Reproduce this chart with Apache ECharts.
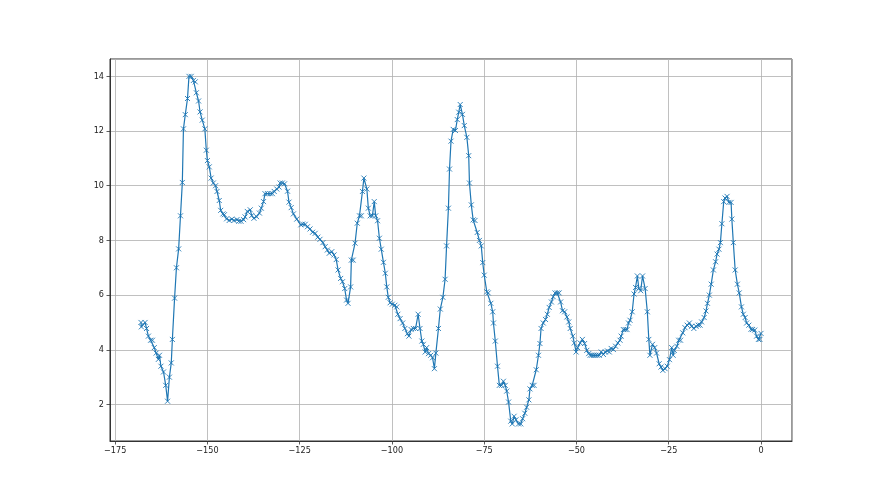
<!DOCTYPE html>
<html>
<head>
<meta charset="utf-8">
<script src="https://cdn.jsdelivr.net/npm/echarts@6/dist/echarts.min.js"></script>
<style>html,body{margin:0;padding:0;background:#fff}#c{width:880px;height:495px}</style>
</head>
<body>
<div id="c"></div>
<script>
const xs = [-168.0,-167.9,-166.9,-166.5,-166.0,-165.4,-164.9,-164.4,-163.9,-163.3,-163.0,-162.6,-161.9,-161.3,-160.8,-160.3,-159.8,-159.5,-158.9,-158.4,-157.8,-157.3,-156.8,-156.5,-156.0,-155.4,-155.0,-154.4,-153.8,-153.3,-153.0,-152.4,-152.0,-151.4,-150.7,-150.3,-150.0,-149.5,-149.0,-148.4,-147.8,-147.4,-146.8,-146.4,-145.8,-145.4,-144.8,-144.1,-143.4,-142.8,-142.0,-141.5,-140.9,-140.2,-139.8,-139.2,-138.4,-138.0,-137.4,-136.7,-135.9,-135.4,-134.8,-134.4,-133.7,-133.0,-132.4,-131.9,-131.2,-130.6,-130.3,-129.7,-129.1,-128.3,-127.9,-127.3,-126.7,-125.8,-124.7,-124.2,-123.5,-122.9,-122.2,-121.5,-120.8,-120.1,-119.5,-118.7,-118.1,-117.5,-117.0,-116.3,-115.7,-115.1,-114.6,-113.9,-113.4,-112.8,-112.3,-111.9,-111.2,-111.0,-110.5,-110.0,-109.4,-108.8,-108.3,-108.0,-107.6,-106.8,-106.4,-105.9,-105.3,-104.8,-104.4,-103.9,-103.4,-102.9,-102.3,-101.8,-101.4,-101.0,-100.5,-99.9,-99.2,-98.7,-98.4,-97.8,-97.1,-96.5,-95.8,-95.4,-94.8,-94.2,-93.6,-92.9,-92.4,-91.9,-91.5,-91.0,-90.6,-90.1,-89.5,-89.0,-88.5,-88.1,-87.4,-86.9,-86.2,-85.6,-85.2,-84.7,-84.4,-84.0,-83.4,-82.8,-82.3,-81.9,-81.5,-80.9,-80.4,-79.7,-79.2,-79.0,-78.5,-78.0,-77.5,-76.9,-76.3,-75.8,-75.4,-75.0,-74.3,-73.9,-73.2,-72.7,-72.5,-72.0,-71.4,-70.9,-70.3,-69.8,-69.3,-68.9,-68.4,-67.8,-67.4,-66.9,-66.4,-65.7,-65.1,-64.6,-64.0,-63.5,-62.9,-62.6,-62.0,-61.5,-60.9,-60.3,-59.9,-59.6,-59.0,-58.4,-57.9,-57.4,-56.8,-56.3,-55.8,-55.2,-54.7,-54.3,-53.8,-53.2,-52.6,-52.1,-51.7,-51.0,-50.6,-50.1,-49.7,-49.0,-48.4,-47.8,-47.2,-46.7,-46.3,-45.8,-45.3,-44.8,-44.3,-43.8,-43.3,-42.7,-42.2,-41.6,-41.1,-40.6,-40.0,-39.4,-38.8,-38.2,-37.9,-37.3,-36.8,-36.3,-35.9,-35.5,-34.9,-34.4,-34.0,-33.5,-33.1,-32.6,-32.1,-31.4,-30.8,-30.4,-30.1,-29.4,-28.8,-28.3,-27.6,-27.1,-26.6,-26.0,-25.4,-24.8,-24.2,-23.8,-23.5,-22.8,-22.3,-21.8,-21.2,-20.6,-20.0,-19.4,-18.8,-18.2,-17.6,-17.0,-16.5,-16.1,-15.4,-14.9,-14.5,-14.0,-13.5,-12.9,-12.3,-11.9,-11.4,-11.0,-10.6,-10.1,-9.75,-9.2,-8.7,-8.1,-7.9,-7.5,-7.0,-6.4,-5.9,-5.3,-4.8,-4.3,-3.9,-3.3,-2.7,-2.3,-1.7,-1.2,-0.7,-0.3,0.0];
const ys = [5.0,4.84,5.0,4.78,4.5,4.35,4.35,4.08,3.88,3.65,3.8,3.4,3.19,2.7,2.12,3.0,3.52,4.38,5.89,7.0,7.69,8.9,10.12,12.08,12.6,13.19,14.0,14.0,13.85,13.8,13.4,13.1,12.7,12.4,12.08,11.3,10.92,10.69,10.28,10.1,10.0,9.79,9.46,9.1,8.97,8.94,8.79,8.73,8.78,8.73,8.76,8.7,8.7,8.76,8.86,9.06,9.12,8.91,8.81,8.87,9.0,9.18,9.42,9.71,9.71,9.71,9.71,9.79,9.88,9.95,10.1,10.1,10.07,9.8,9.4,9.2,8.97,8.78,8.57,8.6,8.59,8.5,8.42,8.3,8.26,8.12,8.04,7.92,7.77,7.65,7.53,7.59,7.47,7.3,6.92,6.61,6.49,6.24,5.82,5.7,6.3,7.28,7.28,7.9,8.63,8.9,8.9,9.79,10.28,9.88,9.18,8.9,8.9,9.42,8.9,8.72,8.08,7.68,7.2,6.8,6.3,5.92,5.72,5.67,5.63,5.57,5.3,5.14,4.98,4.78,4.59,4.5,4.74,4.78,4.78,5.3,4.78,4.32,4.2,3.92,4.08,3.86,3.8,3.71,3.31,3.88,4.78,5.49,5.92,6.58,7.8,9.18,10.61,11.63,12.06,12.02,12.42,12.69,12.97,12.61,12.2,11.77,11.1,10.1,9.3,8.75,8.73,8.29,8.0,7.8,7.19,6.73,6.12,6.08,5.7,5.39,4.98,4.32,3.4,2.7,2.7,2.85,2.7,2.49,2.09,1.39,1.29,1.57,1.44,1.29,1.29,1.48,1.68,1.9,2.17,2.57,2.7,2.7,3.27,3.8,4.23,4.78,4.98,5.11,5.3,5.55,5.75,5.94,6.08,6.08,6.08,5.75,5.43,5.39,5.2,5.02,4.78,4.5,4.25,3.92,4.08,4.25,4.38,4.23,3.98,3.86,3.8,3.8,3.8,3.8,3.8,3.8,3.92,3.83,3.92,3.96,3.92,4.05,4.01,4.13,4.25,4.35,4.5,4.74,4.74,4.74,4.98,5.08,5.39,6.04,6.28,6.7,6.24,6.16,6.7,6.24,5.39,4.38,3.8,4.2,4.08,3.88,3.49,3.37,3.25,3.31,3.4,3.64,4.08,3.8,3.98,4.13,4.35,4.35,4.62,4.81,4.9,4.98,4.86,4.78,4.86,4.9,4.9,5.02,5.18,5.42,5.7,6.0,6.4,6.92,7.22,7.5,7.68,7.92,8.61,9.42,9.55,9.61,9.39,9.39,8.78,7.92,6.92,6.4,6.08,5.57,5.3,5.18,4.98,4.9,4.75,4.74,4.72,4.5,4.38,4.38,4.6];

const data = xs.map((x, i) => [x, ys[i]]);
const chart = echarts.init(document.getElementById('c'), null, {renderer: 'canvas'});
const labelStyle = {color: '#222', fontSize: 9, fontFamily: 'Liberation Sans Narrow, DejaVu Sans Condensed, sans-serif'};
chart.setOption({
  animation: false,
  backgroundColor: '#fff',
  grid: {left: 110, right: 88, top: 59, bottom: 54, show: true, borderColor: '#333', borderWidth: 1, backgroundColor: 'transparent'},
  xAxis: {
    type: 'value', min: -176.4, max: 8.4, minInterval: 25, maxInterval: 25,
    axisLine: {show: true, onZero: false, lineStyle: {color: '#333', width: 1}},
    axisTick: {show: true, length: 3.5, lineStyle: {color: '#333', width: 0.8}},
    axisLabel: Object.assign({margin: 5, showMinLabel: false, showMaxLabel: false,
      formatter: v => (v < 0 ? '\u2212' + Math.abs(v) : '' + v)}, labelStyle),
    splitLine: {show: true, lineStyle: {color: '#b0b0b0', width: 0.8}}
  },
  yAxis: {
    type: 'value', min: 0.665, max: 14.635, minInterval: 2, maxInterval: 2,
    axisLine: {show: true, onZero: false, lineStyle: {color: '#333', width: 1}},
    axisTick: {show: true, length: 3.5, lineStyle: {color: '#333', width: 0.8}},
    axisLabel: Object.assign({margin: 6, showMinLabel: false, showMaxLabel: false}, labelStyle),
    splitLine: {show: true, lineStyle: {color: '#b0b0b0', width: 0.8}}
  },
  series: [{
    type: 'line',
    data: data,
    symbol: 'path://M0,0L10,10M10,0L0,10',
    symbolSize: 5,
    showSymbol: true,
    showAllSymbol: true,
    lineStyle: {color: '#1f77b4', width: 1.2},
    itemStyle: {color: '#1f77b4', borderColor: '#1f77b4', borderWidth: 0.9},
    emphasis: {disabled: true},
    z: 3
  }]
});
</script>
</body>
</html>
